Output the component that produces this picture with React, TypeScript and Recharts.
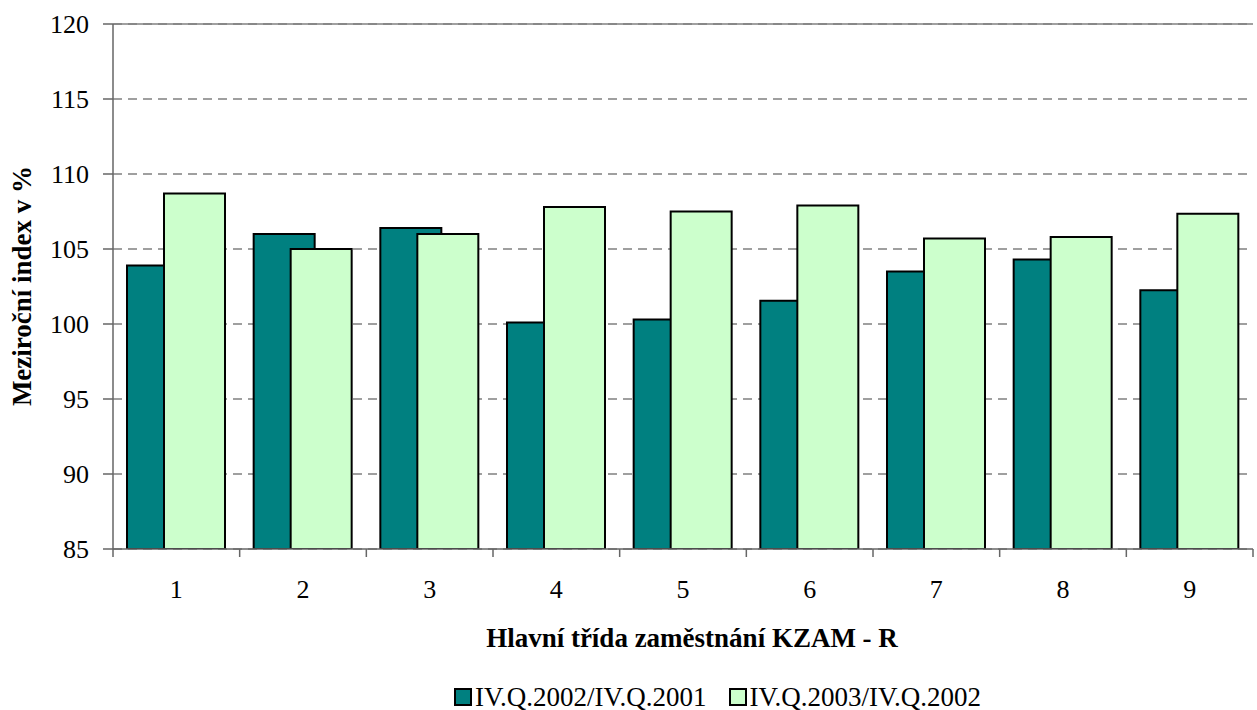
import React from "react"
import {
  BarChart,
  Bar,
  XAxis,
  YAxis,
  CartesianGrid,
  ReferenceLine,
  Label,
} from "recharts"

const categories = ["1", "2", "3", "4", "5", "6", "7", "8", "9"]
const q2002 = [103.9, 106.0, 106.4, 100.1, 100.3, 101.55, 103.5, 104.3, 102.25]
const q2003 = [108.7, 105.0, 106.0, 107.8, 107.5, 107.9, 105.7, 105.8, 107.35]
const yTicks = [85, 90, 95, 100, 105, 110, 115, 120]
const seriesNames = ["IV.Q.2002/IV.Q.2001", "IV.Q.2003/IV.Q.2002"]
const seriesColors = ["#008080", "#ccffcc"]

const data = categories.map((c, i) => ({ cat: c, a: q2002[i], b: q2003[i] }))

const W = 1257
const H = 710
const PLOT_LEFT = 113
const PLOT_RIGHT = 1253
const PLOT_TOP = 24
const PLOT_BOTTOM = 549
const BW = (PLOT_RIGHT - PLOT_LEFT) / categories.length
const FONT = '"Liberation Serif", "Times New Roman", serif'
const AXIS = "#666"

function XTick(props: any) {
  const { x, payload, index } = props
  const cx = payload.coordinate ?? x
  const left = cx - BW / 2
  return (
    <g>
      <line x1={left} x2={left} y1={PLOT_BOTTOM} y2={PLOT_BOTTOM + 8} stroke={AXIS} strokeWidth={1.5} />
      {index === categories.length - 1 && (
        <line x1={cx + BW / 2} x2={cx + BW / 2} y1={PLOT_BOTTOM} y2={PLOT_BOTTOM + 8} stroke={AXIS} strokeWidth={1.5} />
      )}
      <text x={cx} y={598} textAnchor="middle" fontFamily={FONT} fontSize={26} fill="#000">
        {payload.value}
      </text>
    </g>
  )
}

export default function App() {
  return (
    <div style={{ position: "absolute", left: 0, top: 0, width: W, height: H, background: "#fff" }}>
      <BarChart
        width={W}
        height={H}
        data={data}
        margin={{ top: PLOT_TOP, right: W - PLOT_RIGHT, left: 0, bottom: 0 }}
        barSize={61}
        barGap={-24}
      >
        <CartesianGrid
          vertical={false}
          stroke="#808080"
          strokeWidth={1.5}
          strokeDasharray="9 6"
        />
        <XAxis
          dataKey="cat"
          height={H - PLOT_BOTTOM}
          axisLine={{ stroke: AXIS, strokeWidth: 1.5 }}
          tickLine={false}
          tick={<XTick />}
          interval={0}
        >
          <Label
            content={() => (
              <text x={692} y={647} textAnchor="middle" fontFamily={FONT} fontSize={27} fontWeight="bold" fill="#000">
                Hlavní třída zaměstnání KZAM - R
              </text>
            )}
          />
        </XAxis>
        <YAxis
          domain={[85, 120]}
          ticks={yTicks}
          width={PLOT_LEFT}
          allowDataOverflow
          axisLine={{ stroke: AXIS, strokeWidth: 1.5 }}
          tickLine={{ stroke: AXIS, strokeWidth: 1.5 }}
          tickSize={10}
          tickMargin={14}
          tick={{ fontFamily: FONT, fontSize: 26, fill: "#000" }}
        >
          <Label
            content={() => (
              <text
                x={31}
                y={286}
                textAnchor="middle"
                transform="rotate(-90, 31, 286)"
                fontFamily={FONT}
                fontSize={27}
                fontWeight="bold"
                fill="#000"
              >
                Meziroční index v %
              </text>
            )}
          />
        </YAxis>
        <YAxis
          yAxisId="r"
          orientation="right"
          domain={[85, 120]}
          width={0}
          tick={false}
          tickLine={false}
          axisLine={{ stroke: "#808080", strokeWidth: 1.5 }}
        />
        <ReferenceLine y={120} stroke="#808080" strokeWidth={1.5} />
        <Bar
          dataKey="a"
          name={seriesNames[0]}
          fill={seriesColors[0]}
          stroke="#000"
          strokeWidth={2}
          isAnimationActive={false}
        />
        <Bar
          dataKey="b"
          name={seriesNames[1]}
          fill={seriesColors[1]}
          stroke="#000"
          strokeWidth={2}
          isAnimationActive={false}
        />
      </BarChart>
      <div
        style={{
          position: "absolute",
          top: 682,
          left: 454,
          display: "flex",
          gap: 22,
          fontFamily: FONT,
          fontSize: 27,
          lineHeight: "30px",
          color: "#000",
        }}
      >
        {seriesNames.map((n, i) => (
          <span key={n} style={{ display: "flex", alignItems: "center", gap: 3 }}>
            <span
              style={{
                display: "inline-block",
                width: 14,
                height: 14,
                background: seriesColors[i],
                border: "2px solid #000",
              }}
            />
            {n}
          </span>
        ))}
      </div>
    </div>
  )
}
